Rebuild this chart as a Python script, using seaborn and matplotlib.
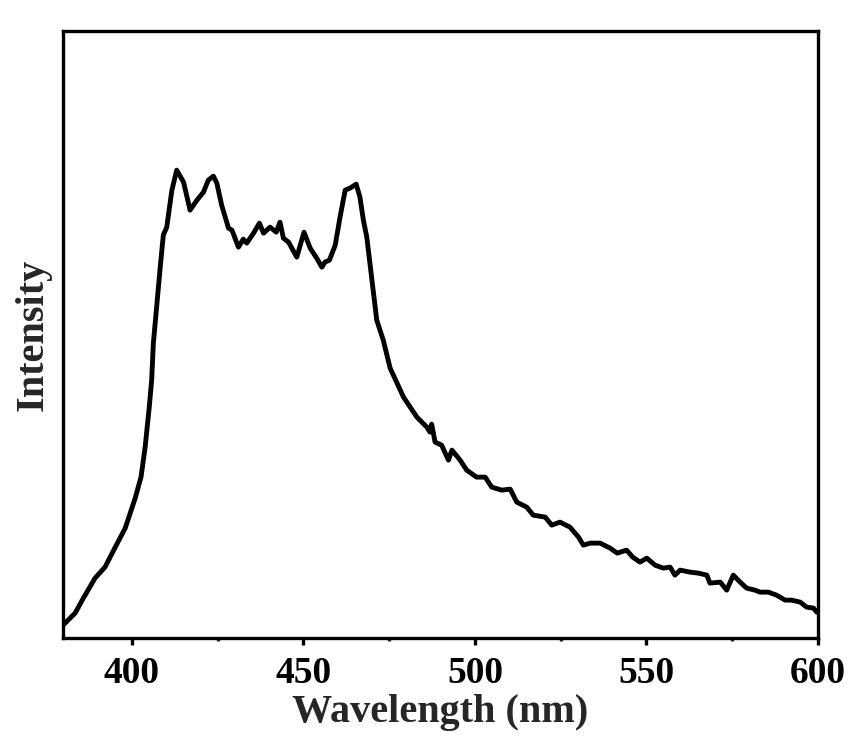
import numpy as np
import pandas as pd
import matplotlib
matplotlib.use("Agg")
import matplotlib.pyplot as plt
from matplotlib.ticker import MultipleLocator
import seaborn as sns

# Emission spectrum (intensity in arbitrary units)
wavelength = [
    380.0, 383.5, 385.9, 389.3, 392.2, 395.2, 398.1, 401.0, 402.7, 403.9,
    405.1, 405.8, 406.3, 408.3, 409.2, 410.2, 411.7, 413.1, 415.1, 417.0,
    419.0, 420.9, 422.3, 423.8, 424.8, 426.2, 428.2, 429.2, 431.1, 432.5,
    433.5, 435.5, 437.2, 438.4, 440.3, 442.1, 443.2, 444.2, 445.7, 448.1,
    450.2, 452.0, 453.9, 455.4, 456.3, 457.6, 459.3, 460.7, 462.2, 463.6,
    465.4, 466.5, 467.5, 468.5, 470.0, 471.4, 473.3, 475.3, 479.2, 483.1,
    486.0, 486.9, 487.4, 488.4, 490.3, 492.3, 493.3, 495.7, 497.6, 500.5,
    503.0, 504.9, 507.8, 510.3, 512.2, 515.1, 517.0, 520.5, 522.4, 524.8,
    527.7, 530.2, 531.6, 533.6, 536.5, 539.4, 541.5, 544.2, 546.0, 548.1,
    550.1, 552.5, 554.9, 556.9, 558.3, 559.8, 562.7, 565.1, 567.6, 568.5,
    571.5, 573.4, 575.3, 577.3, 579.2, 581.6, 583.1, 585.5, 587.9, 590.4,
    592.3, 594.8, 596.7, 598.7, 599.6,
]
intensity = [
    13, 25, 40, 60, 71, 91, 110, 140, 161, 191,
    231, 258, 295, 371, 403, 411, 448, 468, 456, 428,
    438, 446, 458, 462, 455, 433, 410, 408, 391, 399,
    395, 405, 415, 405, 411, 406, 416, 400, 396, 381,
    406, 390, 380, 371, 376, 378, 393, 421, 448, 450,
    454, 441, 418, 401, 358, 318, 298, 270, 241, 221,
    211, 206, 214, 196, 193, 178, 188, 178, 168, 161,
    161, 151, 148, 149, 136, 131, 123, 121, 113, 116,
    111, 101, 93, 95, 95, 90, 85, 88, 81, 76,
    80, 73, 70, 71, 63, 68, 66, 65, 63, 55,
    56, 48, 63, 56, 50, 48, 46, 46, 43, 38,
    38, 36, 31, 30, 26,
]

df = pd.DataFrame({"Wavelength": wavelength, "Intensity": intensity})

sns.set_style("ticks")
plt.rcParams["font.family"] = ["Liberation Serif", "DejaVu Serif"]
plt.rcParams["font.weight"] = "bold"

fig = plt.figure(figsize=(8.53, 7.42), dpi=100)
ax = fig.add_axes([0.074, 0.140, 0.885, 0.818])

sns.lineplot(data=df, x="Wavelength", y="Intensity", ax=ax,
             color="black", linewidth=3.5, sort=False)

ax.set_xlim(380, 600)
ax.set_ylim(0, 607)
ax.xaxis.set_major_locator(MultipleLocator(50))
ax.xaxis.set_minor_locator(MultipleLocator(25))
ax.set_yticks([])

for side in ["left", "right", "top", "bottom"]:
    ax.spines[side].set_linewidth(2.4)
    ax.spines[side].set_color("black")

ax.tick_params(axis="x", which="major", direction="out", length=5, width=2.4,
               labelsize=27, pad=8, colors="black")
ax.tick_params(axis="x", which="minor", direction="out", length=2, width=2.4)
for lbl in ax.get_xticklabels():
    lbl.set_fontweight("bold")

ax.set_xlabel("Wavelength (nm)", fontsize=29, fontweight="bold", labelpad=2)
ax.set_ylabel("Intensity", fontsize=29, fontweight="bold", labelpad=8)

fig.savefig("out.png", dpi=100, facecolor="white")
